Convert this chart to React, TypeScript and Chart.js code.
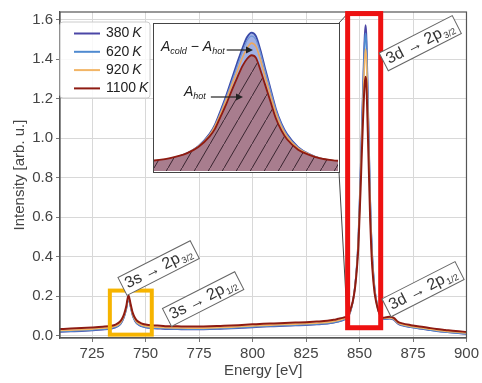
import { useEffect, useRef } from "react";
import { Chart, registerables } from "chart.js";

Chart.register(...registerables);

// Photon energy grid [eV]
const energy = [
  710, 715, 720, 725, 730,
  734, 736, 738, 739, 740,
  741, 742, 743, 744, 745,
  746, 748, 750, 753, 757,
  760, 765, 770, 775, 780,
  785, 790, 795, 800, 805,
  810, 815, 820, 825, 830,
  835, 838, 840, 842, 843,
  844, 845, 846, 847, 848,
  849, 849.5, 850, 850.5, 851,
  851.5, 852, 852.4, 852.8, 853.2,
  853.6, 854, 854.5, 855, 855.5,
  856, 857, 858, 859, 860,
  861, 862, 864, 866, 868,
  870, 874, 878, 882, 886,
  890, 895, 900,
];

// Emission intensity [arb. u.] per temperature
const int380 = [
  0.019, 0.021, 0.023, 0.026, 0.030,
  0.035, 0.041, 0.055, 0.071, 0.096,
  0.135, 0.188, 0.145, 0.100, 0.075,
  0.060, 0.047, 0.041, 0.037, 0.035,
  0.033, 0.032, 0.031, 0.031, 0.032,
  0.034, 0.036, 0.039, 0.042, 0.045,
  0.047, 0.049, 0.051, 0.053, 0.056,
  0.060, 0.065, 0.070, 0.076, 0.081,
  0.085, 0.100, 0.130, 0.180, 0.260,
  0.400, 0.510, 0.670, 0.840, 1.030,
  1.220, 1.400, 1.520, 1.572, 1.530,
  1.370, 1.170, 0.930, 0.690, 0.520,
  0.400, 0.250, 0.170, 0.120, 0.095,
  0.085, 0.084, 0.086, 0.080, 0.060,
  0.051, 0.042, 0.035, 0.029, 0.023,
  0.018, 0.013, 0.009,
];
const int620 = [
  0.021, 0.023, 0.025, 0.028, 0.032,
  0.037, 0.043, 0.057, 0.073, 0.098,
  0.137, 0.190, 0.147, 0.102, 0.077,
  0.062, 0.049, 0.043, 0.039, 0.037,
  0.035, 0.034, 0.033, 0.033, 0.034,
  0.036, 0.038, 0.041, 0.044, 0.047,
  0.049, 0.051, 0.053, 0.055, 0.058,
  0.062, 0.067, 0.072, 0.078, 0.083,
  0.088, 0.103, 0.133, 0.180, 0.260,
  0.390, 0.500, 0.650, 0.820, 1.000,
  1.180, 1.360, 1.480, 1.530, 1.490,
  1.340, 1.140, 0.910, 0.680, 0.510,
  0.390, 0.245, 0.170, 0.120, 0.096,
  0.086, 0.085, 0.087, 0.082, 0.062,
  0.052, 0.043, 0.036, 0.030, 0.024,
  0.019, 0.014, 0.010,
];
const int920 = [
  0.026, 0.028, 0.030, 0.033, 0.037,
  0.042, 0.048, 0.062, 0.078, 0.103,
  0.142, 0.195, 0.152, 0.107, 0.082,
  0.067, 0.054, 0.048, 0.044, 0.042,
  0.040, 0.039, 0.038, 0.038, 0.039,
  0.041, 0.043, 0.046, 0.049, 0.052,
  0.054, 0.056, 0.058, 0.060, 0.063,
  0.067, 0.072, 0.077, 0.083, 0.087,
  0.090, 0.105, 0.135, 0.180, 0.255,
  0.385, 0.490, 0.630, 0.790, 0.960,
  1.120, 1.290, 1.390, 1.450, 1.410,
  1.260, 1.070, 0.850, 0.640, 0.480,
  0.370, 0.235, 0.165, 0.120, 0.098,
  0.088, 0.088, 0.090, 0.085, 0.065,
  0.056, 0.047, 0.040, 0.034, 0.028,
  0.023, 0.018, 0.014,
];
const int1100 = [
  0.033, 0.036, 0.038, 0.041, 0.045,
  0.050, 0.056, 0.070, 0.085, 0.110,
  0.150, 0.205, 0.160, 0.115, 0.090,
  0.075, 0.062, 0.056, 0.052, 0.050,
  0.048, 0.047, 0.046, 0.046, 0.047,
  0.049, 0.051, 0.054, 0.057, 0.060,
  0.062, 0.064, 0.066, 0.068, 0.071,
  0.075, 0.080, 0.085, 0.090, 0.093,
  0.095, 0.110, 0.140, 0.180, 0.250,
  0.370, 0.460, 0.600, 0.740, 0.900,
  1.050, 1.190, 1.270, 1.310, 1.280,
  1.140, 0.980, 0.780, 0.580, 0.440,
  0.340, 0.220, 0.160, 0.120, 0.100,
  0.090, 0.092, 0.095, 0.090, 0.070,
  0.062, 0.053, 0.046, 0.040, 0.034,
  0.029, 0.023, 0.019,
];

const temperatures = ["380", "620", "920", "1100"];
const xTickValues = [725, 750, 775, 800, 825, 850, 875, 900];
const yTickValues = [0, 0.2, 0.4, 0.6, 0.8, 1.0, 1.2, 1.4, 1.6];

const FONT = "'Liberation Sans', Arial, sans-serif";
const COLORS = ["#4b46a6", "#4f8ad0", "#f2b566", "#8e1b12"];

// Highlighted regions in data coordinates
const mainPeakBox = { x0: 844.45, x1: 859.9, y0: 0.04, y1: 1.63 };
const satPeakBox = { x0: 733.3, x1: 752.9, y0: 0.005, y1: 0.228 };

// Transition tags: anchor (energy, intensity), text, subscript
const tags = [
  { x: 756.1, y: 0.342, text: "3s \u2192 2p", sub: "3/2" },
  { x: 776.9, y: 0.185, text: "3s \u2192 2p", sub: "1/2" },
  { x: 878.4, y: 1.48, text: "3d \u2192 2p", sub: "3/2" },
  { x: 879.7, y: 0.235, text: "3d \u2192 2p", sub: "1/2" },
];

// Inset placement on the page
const INSET = { left: 153, top: 23, width: 187, height: 150 };

const series = [int1100, int920, int620, int380];
const seriesColors = [COLORS[3], COLORS[2], COLORS[1], COLORS[0]];

function points(vals: number[]) {
  return energy.map((e, i) => ({ x: e, y: vals[i] }));
}

function drawTag(ctx: CanvasRenderingContext2D, cx: number, cy: number, text: string, sub: string) {
  ctx.save();
  ctx.translate(cx, cy);
  ctx.rotate((-27 * Math.PI) / 180);
  ctx.font = `16px ${FONT}`;
  const w1 = ctx.measureText(text).width;
  ctx.font = `9px ${FONT}`;
  const w2 = ctx.measureText(sub).width;
  const w = w1 + w2 + 1;
  const padX = 4;
  const h = 20;
  ctx.fillStyle = "#ffffff";
  ctx.fillRect(-w / 2 - padX, -h / 2, w + 2 * padX, h);
  ctx.strokeStyle = "#666";
  ctx.lineWidth = 1;
  ctx.strokeRect(-w / 2 - padX, -h / 2, w + 2 * padX, h);
  ctx.fillStyle = "#333";
  ctx.textBaseline = "middle";
  ctx.textAlign = "left";
  ctx.font = `16px ${FONT}`;
  ctx.fillText(text, -w / 2, 0);
  ctx.font = `9px ${FONT}`;
  ctx.fillText(sub, -w / 2 + w1 + 1, 5);
  ctx.restore();
}

function drawArrow(ctx: CanvasRenderingContext2D, x0: number, y0: number, x1: number, y1: number) {
  ctx.save();
  ctx.strokeStyle = "#222";
  ctx.fillStyle = "#222";
  ctx.lineWidth = 1.2;
  ctx.beginPath();
  ctx.moveTo(x0, y0);
  ctx.lineTo(x1 - 6, y1);
  ctx.stroke();
  ctx.beginPath();
  ctx.moveTo(x1, y1);
  ctx.lineTo(x1 - 7, y1 - 3.5);
  ctx.lineTo(x1 - 7, y1 + 3.5);
  ctx.closePath();
  ctx.fill();
  ctx.restore();
}

// Italic symbol with subscript, returns advance
function drawSym(ctx: CanvasRenderingContext2D, x: number, y: number, sym: string, sub: string) {
  ctx.font = `italic 14px ${FONT}`;
  ctx.fillText(sym, x, y);
  const w = ctx.measureText(sym).width;
  ctx.font = `italic 9px ${FONT}`;
  ctx.fillText(sub, x + w, y + 4);
  return w + ctx.measureText(sub).width;
}

const mainOverlay = {
  id: "mainOverlay",
  afterDatasetsDraw(chart: any) {
    const { ctx, chartArea: a, scales } = chart;
    const x = scales.x;
    const y = scales.y;
    ctx.save();
    // plot frame
    ctx.strokeStyle = "#555";
    ctx.lineWidth = 1.2;
    ctx.strokeRect(a.left, a.top, a.right - a.left, a.bottom - a.top);

    // connectors from inset to main peak box
    const bx0 = x.getPixelForValue(mainPeakBox.x0);
    const by0 = y.getPixelForValue(mainPeakBox.y1);
    const by1 = y.getPixelForValue(mainPeakBox.y0);
    ctx.strokeStyle = "#444";
    ctx.lineWidth = 1;
    ctx.beginPath();
    ctx.moveTo(INSET.left + INSET.width - 1, INSET.top);
    ctx.lineTo(bx0, by0);
    ctx.moveTo(INSET.left + INSET.width - 1, INSET.top + INSET.height - 1);
    ctx.lineTo(bx0, by1);
    ctx.stroke();

    // highlight boxes
    const box = (b: any, color: string, lw: number) => {
      const px0 = x.getPixelForValue(b.x0);
      const px1 = x.getPixelForValue(b.x1);
      const py0 = y.getPixelForValue(b.y1);
      const py1 = y.getPixelForValue(b.y0);
      ctx.strokeStyle = color;
      ctx.lineWidth = lw;
      ctx.strokeRect(px0, py0, px1 - px0, py1 - py0);
    };
    box(mainPeakBox, "#ee1111", 5);
    box(satPeakBox, "#f6b400", 4);

    // transition tags
    tags.forEach((t) => drawTag(ctx, x.getPixelForValue(t.x), y.getPixelForValue(t.y), t.text, t.sub));

    // legend
    const lx = 60;
    const ly = 22;
    const lw = 90;
    const lh = 76;
    ctx.fillStyle = "rgba(255,255,255,0.85)";
    ctx.strokeStyle = "#cccccc";
    ctx.lineWidth = 1;
    ctx.beginPath();
    ctx.roundRect(lx, ly, lw, lh, 3);
    ctx.fill();
    ctx.stroke();
    temperatures.forEach((t, i) => {
      const yy = ly + 11.5 + i * 18.3;
      ctx.strokeStyle = COLORS[i];
      ctx.lineWidth = 2;
      ctx.beginPath();
      ctx.moveTo(lx + 14, yy);
      ctx.lineTo(lx + 40, yy);
      ctx.stroke();
      ctx.fillStyle = "#222";
      ctx.textBaseline = "middle";
      ctx.textAlign = "left";
      ctx.font = `14px ${FONT}`;
      ctx.fillText(t, lx + 46, yy);
      const w = ctx.measureText(t + "\u2009").width;
      ctx.font = `italic 14px ${FONT}`;
      ctx.fillText("K", lx + 46 + w, yy);
    });

    // axis titles
    ctx.fillStyle = "#444";
    ctx.font = `15px ${FONT}`;
    ctx.textAlign = "center";
    ctx.textBaseline = "middle";
    ctx.fillText("Energy [eV]", (a.left + a.right) / 2, 371);
    ctx.translate(20, (a.top + a.bottom) / 2);
    ctx.rotate(-Math.PI / 2);
    ctx.fillText("Intensity [arb. u.]", 0, 0);
    ctx.restore();
  },
};

const insetOverlay = {
  id: "insetOverlay",
  afterDatasetsDraw(chart: any) {
    const { ctx } = chart;
    ctx.save();
    ctx.fillStyle = "#222";
    ctx.textBaseline = "middle";
    ctx.textAlign = "left";
    let cx = 7;
    cx += drawSym(ctx, cx, 23.5, "A", "cold");
    ctx.font = `14px ${FONT}`;
    ctx.fillText(" \u2212 ", cx, 23.5);
    cx += ctx.measureText(" \u2212 ").width;
    cx += drawSym(ctx, cx, 23.5, "A", "hot");
    drawArrow(ctx, cx + 2, 26, 99, 26);
    const hx = 30 + drawSym(ctx, 30, 68.5, "A", "hot");
    drawArrow(ctx, hx + 5, 73, 89, 73);
    ctx.restore();
  },
};

function hatchPattern(): CanvasPattern | string {
  const c = document.createElement("canvas");
  c.width = 14;
  c.height = 24;
  const g = c.getContext("2d");
  if (!g) return "rgb(168,125,142)";
  g.fillStyle = "rgb(168,125,142)";
  g.fillRect(0, 0, 14, 24);
  g.strokeStyle = "rgba(45,28,38,0.9)";
  g.lineWidth = 1;
  g.beginPath();
  g.moveTo(-1, 24 + 24 / 14);
  g.lineTo(15, -24 / 14);
  g.stroke();
  return g.createPattern(c, "repeat") || "rgb(168,125,142)";
}

export default function App() {
  const mainRef = useRef<HTMLCanvasElement>(null);
  const insetRef = useRef<HTMLCanvasElement>(null);

  useEffect(() => {
    if (!mainRef.current || !insetRef.current) return;

    const main = new Chart(mainRef.current, {
      type: "line",
      data: {
        datasets: series.map((vals, i) => ({
          label: temperatures[3 - i] + " K",
          data: points(vals),
          borderColor: seriesColors[i],
          borderWidth: i === 0 ? 2 : 1.6,
          pointRadius: 0,
          tension: 0,
          cubicInterpolationMode: "monotone" as const,
          fill: false,
          order: i,
        })),
      },
      options: {
        responsive: false,
        animation: false,
        devicePixelRatio: 1,
        layout: { padding: { top: 12, right: 10.6, left: 0, bottom: 0 } },
        plugins: { legend: { display: false }, tooltip: { enabled: false } },
        scales: {
          x: {
            type: "linear",
            min: 710,
            max: 900,
            afterFit: (s: any) => {
              s.height = 45;
            },
            afterBuildTicks: (s: any) => {
              s.ticks = xTickValues.map((v) => ({ value: v }));
            },
            grid: { color: "#d8d8d8", lineWidth: 1, tickLength: 4, tickColor: "#777" },
            border: { display: true, color: "#555", width: 1.2 },
            ticks: { color: "#444", font: { family: FONT, size: 15 }, padding: 3, maxRotation: 0 },
          },
          y: {
            type: "linear",
            min: -0.012,
            max: 1.638,
            afterFit: (s: any) => {
              s.width = 60;
            },
            afterBuildTicks: (s: any) => {
              s.ticks = yTickValues.map((v) => ({ value: v }));
            },
            grid: { color: "#d8d8d8", lineWidth: 1, tickLength: 4, tickColor: "#777" },
            border: { display: true, color: "#555", width: 1.2 },
            ticks: {
              color: "#444",
              font: { family: FONT, size: 15 },
              padding: 3,
              callback: (v: any) => Number(v).toFixed(1),
            },
          },
        },
      },
      plugins: [mainOverlay],
    });

    const pattern = hatchPattern();
    const inset = new Chart(insetRef.current, {
      type: "line",
      data: {
        datasets: [
          {
            data: points(int1100),
            borderColor: COLORS[3],
            borderWidth: 1.8,
            backgroundColor: pattern as any,
            fill: "start",
            pointRadius: 0,
            cubicInterpolationMode: "monotone" as const,
            order: 0,
          },
          {
            data: points(int920),
            borderColor: "#eba860",
            borderWidth: 1.6,
            fill: false,
            pointRadius: 0,
            cubicInterpolationMode: "monotone" as const,
            order: 1,
          },
          {
            data: points(int620),
            borderColor: "#6f95d8",
            borderWidth: 1.2,
            fill: false,
            pointRadius: 0,
            cubicInterpolationMode: "monotone" as const,
            order: 2,
          },
          {
            data: points(int380),
            borderColor: "#3a4aa8",
            borderWidth: 1.8,
            backgroundColor: "rgba(110,135,215,0.65)",
            fill: { target: 0 },
            pointRadius: 0,
            cubicInterpolationMode: "monotone" as const,
            order: 3,
          },
        ],
      },
      options: {
        responsive: false,
        animation: false,
        devicePixelRatio: 1,
        layout: { padding: 0 },
        plugins: { legend: { display: false }, tooltip: { enabled: false } },
        scales: {
          x: { type: "linear", min: 844, max: 860.6, display: false },
          y: { type: "linear", min: -0.026, max: 1.671, display: false },
        },
      },
      plugins: [insetOverlay],
    });

    return () => {
      main.destroy();
      inset.destroy();
    };
  }, []);

  return (
    <div style={{ position: "fixed", left: 0, top: 0, width: 482, height: 383, background: "#fff" }}>
      <canvas ref={mainRef} width={482} height={383} style={{ position: "absolute", left: 0, top: 0, width: 482, height: 383 }} />
      <div
        style={{
          position: "absolute",
          left: INSET.left,
          top: INSET.top,
          width: INSET.width,
          height: INSET.height,
          boxSizing: "border-box",
          border: "1.5px solid #444",
          background: "#fff",
          overflow: "hidden",
        }}
      >
        <canvas ref={insetRef} width={INSET.width - 3} height={INSET.height - 3} style={{ display: "block" }} />
      </div>
    </div>
  );
}
